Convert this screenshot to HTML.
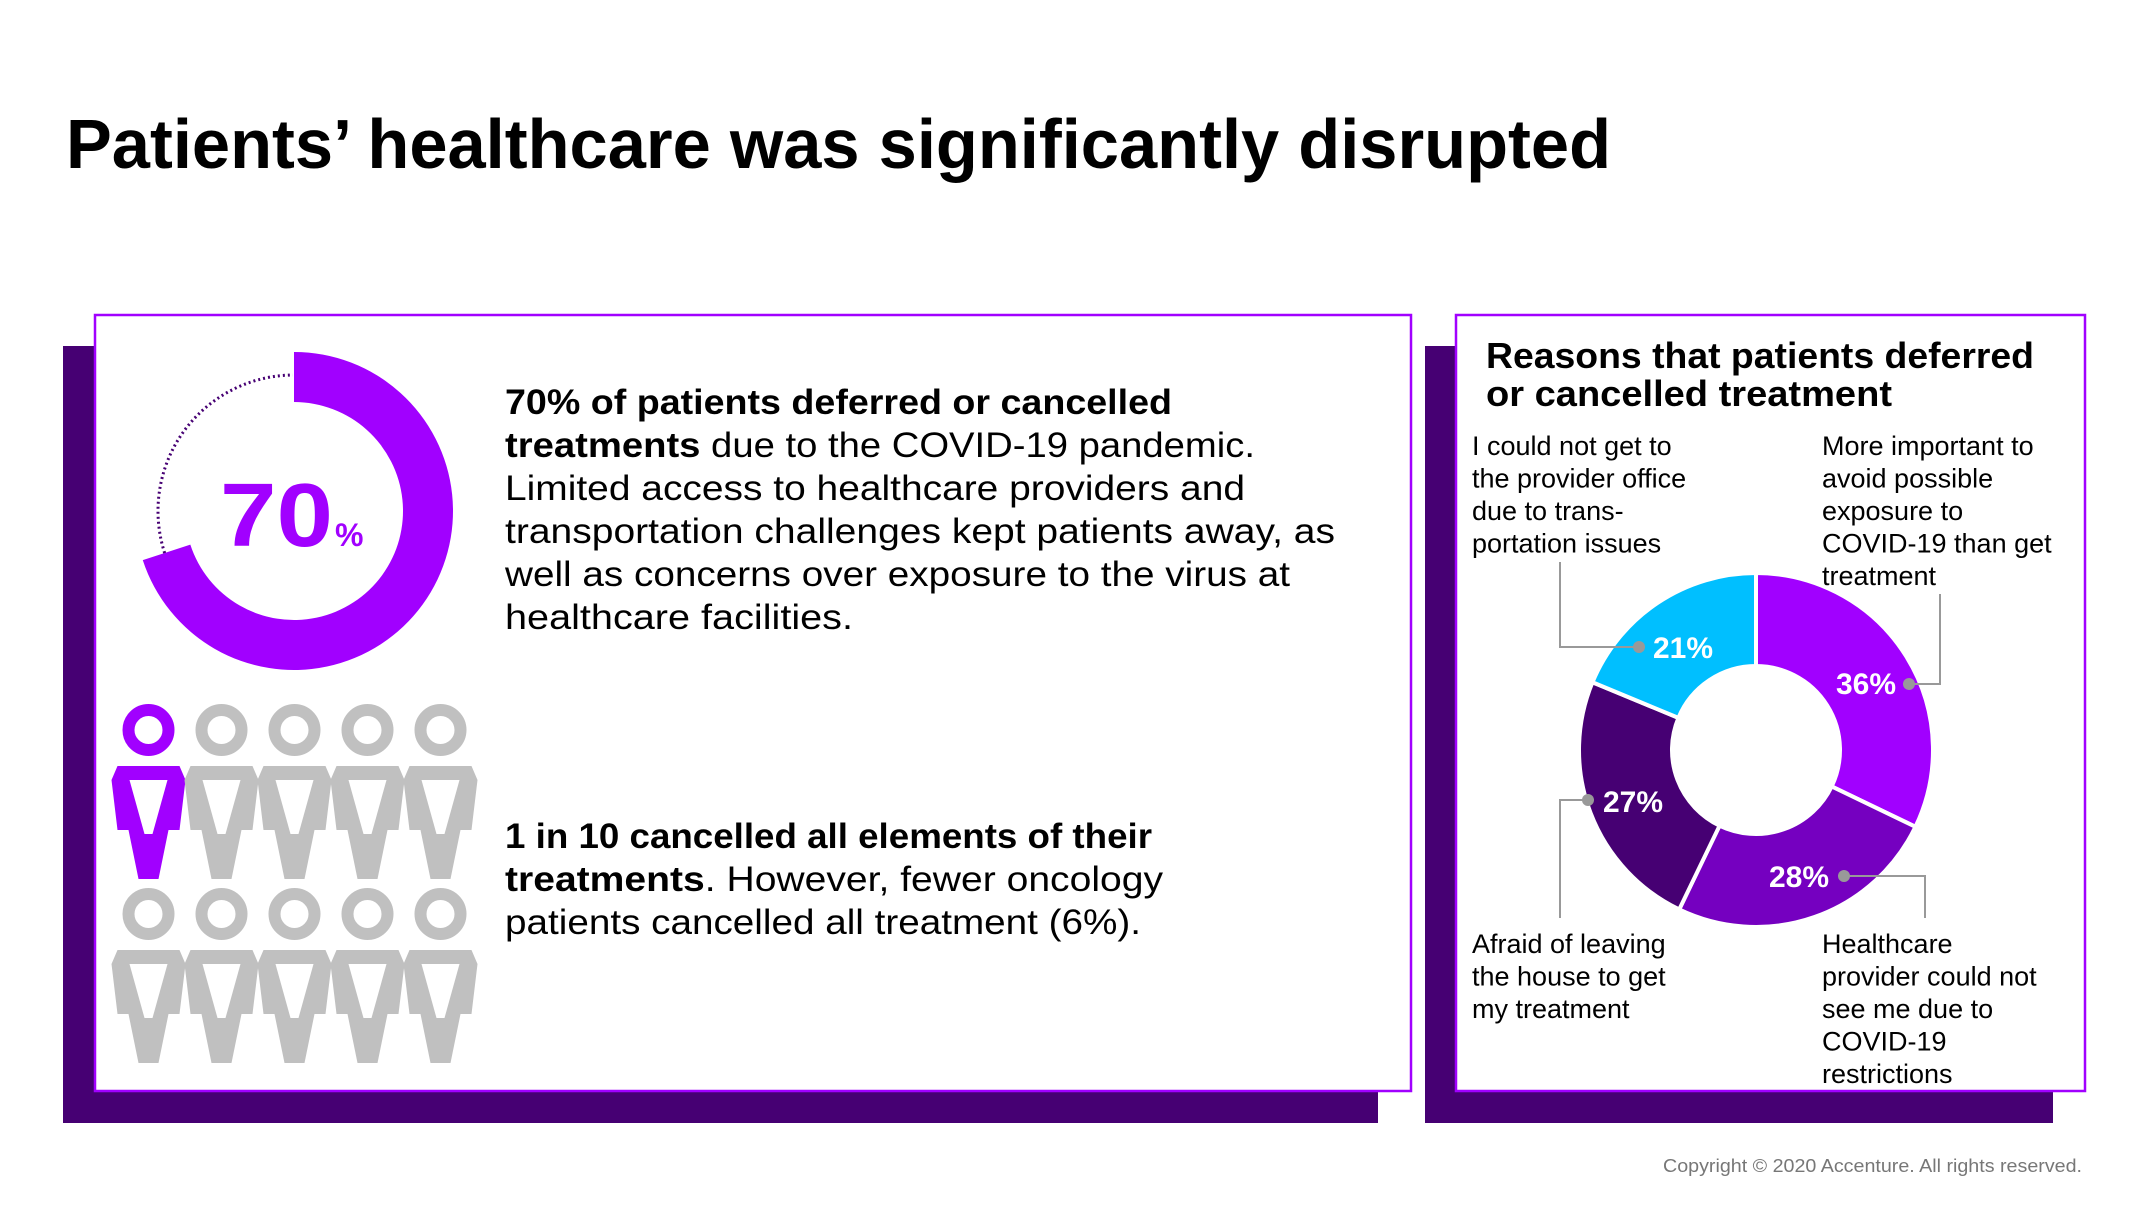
<!DOCTYPE html>
<html><head><meta charset="utf-8">
<style>
html,body{margin:0;padding:0;background:#fff;}
svg{display:block;font-family:"Liberation Sans",sans-serif;}
</style></head>
<body>
<svg id="s" width="2147" height="1208" viewBox="0 0 2147 1208" xmlns="http://www.w3.org/2000/svg">
<text x="66" y="168" font-size="70" font-weight="bold" fill="#000" textLength="1545" lengthAdjust="spacingAndGlyphs">Patients’ healthcare was  significantly disrupted</text>

<rect x="63" y="346" width="1315" height="777" fill="#460073"/>
<rect x="95" y="315" width="1316" height="776" fill="#fff" stroke="#a100ff" stroke-width="2.5"/>
<rect x="1425" y="346" width="628" height="777" fill="#460073"/>
<rect x="1456" y="315" width="629" height="776" fill="#fff" stroke="#a100ff" stroke-width="2.5"/>

<g id="gauge"></g>
<text y="546" fill="#a100ff" font-weight="bold"><tspan x="220" font-size="90" textLength="113" lengthAdjust="spacingAndGlyphs">70</tspan><tspan x="335" font-size="32">%</tspan></text>

<g font-size="35" fill="#000">
<text x="505" y="414" textLength="667" lengthAdjust="spacingAndGlyphs" font-weight="bold">70% of patients deferred or cancelled</text>
<text x="505" y="457" textLength="750" lengthAdjust="spacingAndGlyphs"><tspan font-weight="bold">treatments</tspan> due to the COVID-19 pandemic.</text>
<text x="505" y="500" textLength="740" lengthAdjust="spacingAndGlyphs">Limited access to healthcare providers and</text>
<text x="505" y="543" textLength="830" lengthAdjust="spacingAndGlyphs">transportation challenges kept patients away, as</text>
<text x="505" y="586" textLength="785" lengthAdjust="spacingAndGlyphs">well as concerns over exposure to the virus at</text>
<text x="505" y="629" textLength="348" lengthAdjust="spacingAndGlyphs">healthcare facilities.</text>
</g>
<g font-size="35" fill="#000">
<text x="505" y="848" textLength="647" lengthAdjust="spacingAndGlyphs" font-weight="bold">1 in 10 cancelled all elements of their</text>
<text x="505" y="891" textLength="658" lengthAdjust="spacingAndGlyphs"><tspan font-weight="bold">treatments</tspan>. However, fewer oncology</text>
<text x="505" y="934" textLength="636" lengthAdjust="spacingAndGlyphs">patients cancelled all treatment (6%).</text>
</g>
<g id="people"></g>

<text x="1486" y="368" font-size="36" font-weight="bold" textLength="548" lengthAdjust="spacingAndGlyphs">Reasons that patients deferred</text>
<text x="1486" y="406" font-size="36" font-weight="bold" textLength="406" lengthAdjust="spacingAndGlyphs">or cancelled treatment</text>

<g id="donut"></g>
<g id="cats" font-size="27" fill="#000"></g>

<text x="1663" y="1172" font-size="18" fill="#777" textLength="419" lengthAdjust="spacingAndGlyphs">Copyright © 2020 Accenture. All rights reserved.</text>
</svg>
<script>
const gaugeValue = 70;
const peopleTotal = 10;
const peopleHighlighted = 1;
const reasonValues = [36, 28, 27, 21];
const reasonLabels = ["36%", "28%", "27%", "21%"];
const reasonText = [
 ["More important to","avoid possible","exposure to","COVID-19 than get","treatment"],
 ["Healthcare","provider could not","see me due to","COVID-19","restrictions"],
 ["Afraid of leaving","the house to get","my treatment"],
 ["I could not get to","the provider office","due to trans-","portation issues"]
];
const NS="http://www.w3.org/2000/svg";
function mk(t,a,p){const e=document.createElementNS(NS,t);for(const k in a)e.setAttribute(k,a[k]);p.appendChild(e);return e;}
function pt(cx,cy,r,deg){const a=deg*Math.PI/180;return [cx+r*Math.sin(a),cy-r*Math.cos(a)];}
function arcPath(cx,cy,R,r,a0,a1){const l=(a1-a0)>180?1:0;const p1=pt(cx,cy,R,a0),p2=pt(cx,cy,R,a1),p3=pt(cx,cy,r,a1),p4=pt(cx,cy,r,a0);
return `M${p1}A${R},${R} 0 ${l} 1 ${p2}L${p3}A${r},${r} 0 ${l} 0 ${p4}Z`;}

const g=document.getElementById('gauge');
const gEnd=gaugeValue/100*360;
let e=mk('path',{d:arcPath(294,511,159,109,0,gEnd),fill:'#a100ff'},g);


const d0=pt(294,511,136,gEnd),d1=pt(294,511,136,359.5);
e=mk('path',{d:`M${d0}A136,136 0 ${(360-gEnd)>180?1:0} 1 ${d1}`,fill:'none',stroke:'#460073','stroke-width':3,'stroke-dasharray':'2 3'},g);



const pp=document.getElementById('people');
for(let i=0;i<peopleTotal;i++){
 const cx=148.5+(i%5)*73, row=Math.floor(i/5), hy=730+row*184, by=766+row*184;
 const col=i<peopleHighlighted?'#a100ff':'#c0c0c0';
 const grp=mk('g',{},pp);
 
 
 mk('circle',{cx:cx,cy:hy,r:20,fill:'none',stroke:col,'stroke-width':12},grp);
 const o=[[-31,0],[31,0],[37,14],[31,64],[20,64],[10,113],[-10,113],[-20,64],[-31,64],[-37,14]];
 mk('polygon',{points:o.map(q=>(cx+q[0])+','+(by+q[1])).join(' '),fill:col},grp);
 const n=[[-19,14],[19,14],[4,68],[-4,68]];
 mk('polygon',{points:n.map(q=>(cx+q[0])+','+(by+q[1])).join(' '),fill:'#fff'},grp);
}

const dn=document.getElementById('donut');
const CX=1756,CY=750,R=177,r=84;
const cols=['#a100ff','#7500c0','#460073','#00bfff'];
const sum=reasonValues.reduce((a,b)=>a+b,0);
let acc=0;
const labelPos=[[1866,694,1909,684,1940,594],[1799,887,1844,876,1925,918],[1633,812,1588,800,1560,918],[1683,658,1639,647,1560,562]];
reasonValues.forEach((v,i)=>{
 const a0=acc/sum*360; acc+=v; const a1=acc/sum*360;
 e=mk('path',{d:arcPath(CX,CY,R,r,a0,a1),fill:cols[i],stroke:'#fff','stroke-width':4},dn);
 
 
});
reasonValues.forEach((v,i)=>{
 const lp=labelPos[i];
 e=mk('polyline',{points:`${lp[2]},${lp[3]} ${lp[4]},${lp[3]} ${lp[4]},${lp[5]}`,fill:'none',stroke:'#999','stroke-width':2},dn);
 
 
 e=mk('circle',{cx:lp[2],cy:lp[3],r:6,fill:'#999'},dn);
 
 
 e=mk('text',{x:lp[0],y:lp[1],'font-size':30,'font-weight':'bold',fill:'#fff','text-anchor':'middle'},dn);
 e.textContent=reasonLabels[i];
 
 
});
const cats=document.getElementById('cats');
const catPos=[[1822,455],[1822,953],[1472,953],[1472,455]];
reasonText.forEach((lines,i)=>{
 const t=mk('text',{},cats);
 
 
 lines.forEach((ln,j)=>{const s=mk('tspan',{x:catPos[i][0],y:catPos[i][1]+j*32.5},t);s.textContent=ln;});
});
</script>
</body></html>
